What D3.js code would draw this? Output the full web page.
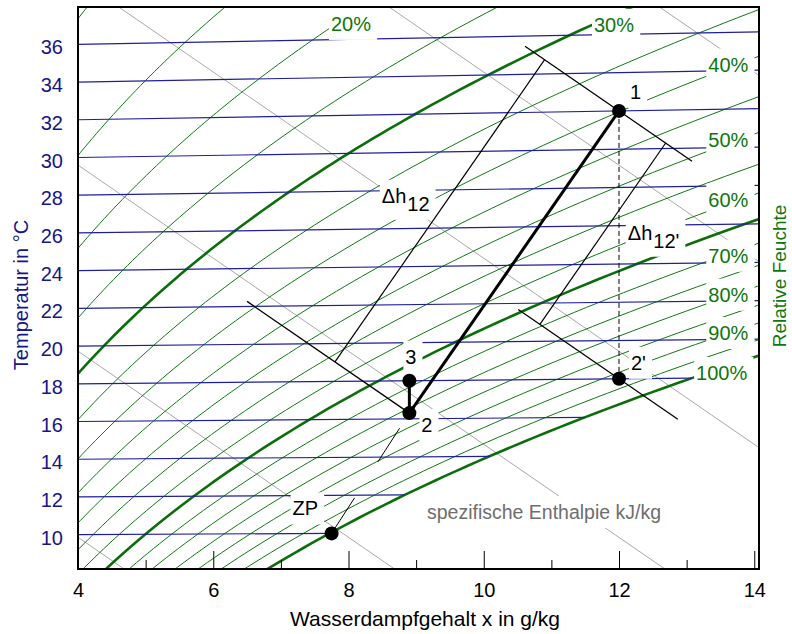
<!DOCTYPE html>
<html>
<head>
<meta charset="utf-8">
<script src="https://cdn.jsdelivr.net/npm/d3@7/dist/d3.min.js"></script>
<style>
  body { margin: 0; background: #fff; }
  svg { display: block; font-family: 'Liberation Sans', Arial, Helvetica, sans-serif; }
</style>
</head>
<body>
<div id="chart"></div>
<script>
// ---- chart values ----
const tempTicks = [10, 12, 14, 16, 18, 20, 22, 24, 26, 28, 30, 32, 34, 36];
const xMajor = [4, 6, 8, 10, 12, 14];
const xMinor = [5, 7, 9, 11, 13];
const rhValues = [10, 15, 20, 25, 30, 35, 40, 45, 50, 55, 60, 65, 70, 75, 80, 85, 90, 95, 100];
const rhBold = [30, 65, 100];
const rhLabelValues = [20, 30, 40, 50, 60, 70, 80, 90, 100];
const rhLabelX = [7.74, 11.63, 13.32, 13.32, 13.32, 13.32, 13.32, 13.32, 13.14];
const rhLabelT = [36.46, 36.16, 33.97, 30.06, 26.93, 24.01, 21.98, 19.98, 17.90];
const enthalpyValues = [20, 30, 40, 50, 60, 70];

// state points: x in g/kg, t in °C
const pointNames = ['1', '2', '3', "2'", 'ZP'];
const pointX = [12, 8.9, 8.9, 12, 7.75];
const pointT = [32, 16.3, 18, 18, 10];

// ---- h-x diagram helpers (p = 1 bar) ----
const P = 100000;
function pSat(t) { return 611.2 * Math.exp(17.62 * t / (243.12 + t)); }
function xOf(t, phi) { const pv = phi * pSat(t); return 622 * pv / (P - pv); }
// skewed ordinate: h - r0*x  (kJ/kg)
function skew(t, xw) { return t * (1.006 + 0.00186 * xw); }
function hOf(t, xw) { return skew(t, xw) + 2.501 * xw; }

const width = 792, height = 634;
const plot = { left: 78, right: 759, top: 7, bottom: 569 };

const x = d3.scaleLinear().domain([4, 14.07]).range([plot.left, plot.right]);
const y = d3.scaleLinear().domain([8.29, 38.49]).range([plot.bottom, plot.top]);
const line = d3.line().x(d => x(d[0])).y(d => y(d[1]));

const svg = d3.select('#chart').append('svg')
  .attr('width', width)
  .attr('height', height);

svg.append('defs').append('clipPath').attr('id', 'plotclip')
  .append('rect')
  .attr('x', plot.left).attr('y', plot.top)
  .attr('width', plot.right - plot.left)
  .attr('height', plot.bottom - plot.top);

const grid = svg.append('g').attr('clip-path', 'url(#plotclip)');

// enthalpy lines
grid.selectAll('.hline').data(enthalpyValues).join('path')
  .attr('class', 'hline')
  .attr('d', h => line([[3, h - 2.501 * 3], [15, h - 2.501 * 15]]))
  .attr('fill', 'none')
  .attr('stroke', '#a8a8a8')
  .attr('stroke-width', 1);

// relative humidity curves
function rhCurve(phi) {
  const pts = [];
  for (let t = -10; t <= 60; t += 0.25) {
    const xw = xOf(t, phi / 100);
    pts.push([xw, skew(t, xw)]);
    if (xw > 15) break;
  }
  return pts;
}
grid.selectAll('.rh').data(rhValues).join('path')
  .attr('class', 'rh')
  .attr('d', phi => line(rhCurve(phi)))
  .attr('fill', 'none')
  .attr('stroke', phi => rhBold.includes(phi) ? '#0b6e0b' : '#0f780f')
  .attr('stroke-width', phi => rhBold.includes(phi) ? 2.6 : 1);

// isotherms, ending at the saturation line
grid.selectAll('.iso').data(tempTicks).join('path')
  .attr('class', 'iso')
  .attr('d', t => {
    const xe = Math.min(xOf(t, 1), 14.2);
    return line([[4, skew(t, 4)], [xe, skew(t, xe)]]);
  })
  .attr('fill', 'none')
  .attr('stroke', '#1f1f9a')
  .attr('stroke-width', 1.2);

const maskLayer = svg.append('g');
const annoLayer = svg.append('g');
const pointLayer = svg.append('g');
const textLayer = svg.append('g');

// text with a white knock-out box behind it
function label(px, py, parts, color, size) {
  const t = textLayer.append('text')
    .attr('x', px).attr('y', py)
    .attr('fill', color)
    .attr('font-size', size || 20);
  parts.forEach(p => {
    t.append('tspan').attr('dx', p.dx || 0).attr('dy', p.dy || 0).text(p.text);
  });
  const b = t.node().getBBox();
  maskLayer.append('rect')
    .attr('x', b.x - 2).attr('y', b.y - 5)
    .attr('width', b.width + 8).attr('height', b.height + 10)
    .attr('fill', '#fff');
  return t;
}

// rh labels
rhLabelValues.forEach((v, i) => {
  label(x(rhLabelX[i]), y(skew(rhLabelT[i], rhLabelX[i])), [{ text: v + '%' }], '#0e760e');
});

// state points
const pts = pointNames.map((n, i) => ({
  name: n, x: pointX[i], t: pointT[i],
  Y: skew(pointT[i], pointX[i]), h: hOf(pointT[i], pointX[i])
}));
const [p1, p2, p3, p2s, zp] = pts;

// enthalpy segments through 1, 2 and 2'
const hSegs = [[p1, 10.61, 13.08], [p2, 6.5, 8.9], [p2s, 10.51, 12.87]];
hSegs.forEach(([p, x0, x1]) => {
  annoLayer.append('path')
    .attr('d', line([[x0, p.h - 2.501 * x0], [x1, p.h - 2.501 * x1]]))
    .attr('stroke', '#000').attr('stroke-width', 1.3).attr('fill', 'none');
});

// dimension line dh12: line 2-1 shifted along the enthalpy lines
const shift = 1.1;
const dh12 = [[p2.x - shift, p2.Y + 2.501 * shift], [p1.x - shift, p1.Y + 2.501 * shift]];
// dimension line dh12': parallel to 2-1, from h(2') to h(1)
const dx = p1.x - p2.x, dY = p1.Y - p2.Y;
const s0 = 10.83;
const sY = p2s.h - 2.501 * s0;
const s = (p1.h - p2s.h) / (dY + 2.501 * dx);
const dh12s = [[s0, sY], [s0 + s * dx, sY + s * dY]];

[dh12, dh12s].forEach(seg => {
  annoLayer.append('path')
    .attr('d', line(seg))
    .attr('stroke', '#000').attr('stroke-width', 1.2).attr('fill', 'none');
});

// process lines
annoLayer.append('path')
  .attr('d', line([[p2.x, p2.Y], [p1.x, p1.Y]]))
  .attr('stroke', '#000').attr('stroke-width', 3).attr('fill', 'none');
annoLayer.append('path')
  .attr('d', line([[p2.x, p2.Y], [p3.x, p3.Y]]))
  .attr('stroke', '#000').attr('stroke-width', 3).attr('fill', 'none');
annoLayer.append('path')
  .attr('d', line([[p1.x, p1.Y], [p2s.x, p2s.Y]]))
  .attr('stroke', '#000').attr('stroke-width', 1)
  .attr('stroke-dasharray', '5,3').attr('fill', 'none');
annoLayer.append('path')
  .attr('d', line([[p2.x, p2.Y], [zp.x, zp.Y]]))
  .attr('stroke', '#000').attr('stroke-width', 1)
  .attr('stroke-dasharray', '40,43').attr('stroke-dashoffset', 65)
  .attr('fill', 'none');

pointLayer.selectAll('circle').data(pts).join('circle')
  .attr('cx', d => x(d.x))
  .attr('cy', d => y(d.Y))
  .attr('r', 7)
  .attr('fill', '#000');

// point labels, offset in pixels from the point
const pointLabelOffset = [[11, -12], [12, 19], [-4, -17], [12, -9], [-39, -18]];
pts.forEach((p, i) => {
  label(x(p.x) + pointLabelOffset[i][0], y(p.Y) + pointLabelOffset[i][1], [{ text: p.name }], '#000');
});

// delta h labels
const mid12 = [(dh12[0][0] + dh12[1][0]) / 2, (dh12[0][1] + dh12[1][1]) / 2];
label(x(mid12[0]) - 58, y(mid12[1]) - 8,
  [{ text: 'Δh' }, { text: '12', dy: 8, dx: 1 }], '#000');
const mid12s = [(dh12s[0][0] + dh12s[1][0]) / 2, (dh12s[0][1] + dh12s[1][1]) / 2];
label(x(mid12s[0]) + 25, y(mid12s[1]) + 6,
  [{ text: 'Δh' }, { text: "12'", dy: 8, dx: 1 }], '#000');

// enthalpy caption
label(x(9.16), y(skew(10.73, 9.16)), [{ text: 'spezifische Enthalpie kJ/kg' }], '#6e6e6e', 19.5);

// ---- axes ----
svg.append('rect')
  .attr('x', plot.left).attr('y', plot.top)
  .attr('width', plot.right - plot.left)
  .attr('height', plot.bottom - plot.top)
  .attr('fill', 'none')
  .attr('stroke', '#000')
  .attr('stroke-width', 2);

const xAxis = svg.append('g')
  .attr('transform', 'translate(0,' + plot.bottom + ')')
  .call(d3.axisBottom(x).tickValues(xMajor).tickSize(-18).tickPadding(14));
const xAxisMinor = svg.append('g')
  .attr('transform', 'translate(0,' + plot.bottom + ')')
  .call(d3.axisBottom(x).tickValues(xMinor).tickSize(-9).tickFormat(''));
[xAxis, xAxisMinor].forEach(g => {
  g.select('.domain').remove();
  g.selectAll('line').attr('stroke', '#000').attr('stroke-width', 1);
  g.selectAll('text')
    .attr('font-size', 20)
    .attr('font-family', "'Liberation Sans', Arial, sans-serif")
    .attr('fill', '#000');
});

// temperature labels sit on the isotherms at the left edge
const yT = d3.scaleLinear()
  .domain([10, 36])
  .range([y(skew(10, 4)), y(skew(36, 4))]);
const yAxis = svg.append('g')
  .attr('transform', 'translate(' + plot.left + ',0)')
  .call(d3.axisLeft(yT).tickValues(tempTicks).tickSize(0).tickPadding(15));
yAxis.select('.domain').remove();
yAxis.selectAll('text')
  .attr('font-size', 20)
  .attr('font-family', "'Liberation Sans', Arial, sans-serif")
  .attr('fill', '#161686')
  .attr('dy', '0.48em');

svg.append('text')
  .attr('x', 425).attr('y', 626)
  .attr('text-anchor', 'middle')
  .attr('font-size', 21)
  .attr('fill', '#000')
  .text('Wasserdampfgehalt x in g/kg');

svg.append('text')
  .attr('transform', 'translate(28,295) rotate(-90)')
  .attr('text-anchor', 'middle')
  .attr('font-size', 20)
  .attr('fill', '#161686')
  .text('Temperatur in °C');

svg.append('text')
  .attr('transform', 'translate(786,276) rotate(-90)')
  .attr('text-anchor', 'middle')
  .attr('font-size', 19)
  .attr('fill', '#0e760e')
  .text('Relative Feuchte');
</script>
</body>
</html>
